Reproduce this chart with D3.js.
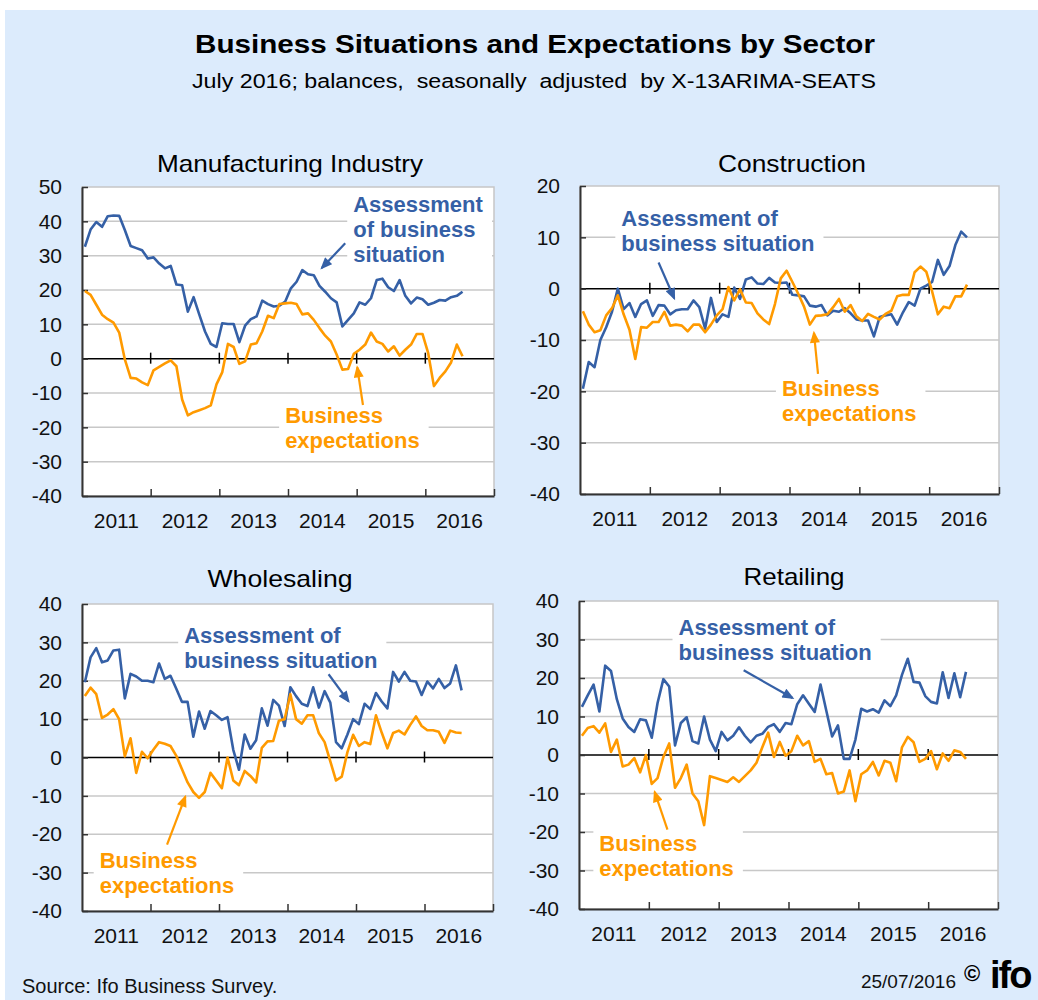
<!DOCTYPE html>
<html>
<head>
<meta charset="utf-8">
<script src="https://cdn.jsdelivr.net/npm/d3@7"></script>
<style>
  body { margin: 0; background: #fff; }
  svg { display: block; font-family: "Liberation Sans", Arial, sans-serif; }
</style>
</head>
<body>
<svg id="chart"></svg>
<script>
// Tick labels of the x axis (one label per year, months 0..71)
const years = ["2011", "2012", "2013", "2014", "2015", "2016"];

// Monthly balances, Jan 2011 - Jul 2016
const manufSituation = [32.6, 37.6, 39.8, 38.4, 41.5, 41.7, 41.6, 37.4, 32.8, 32.2, 31.6, 29.2,
  29.5, 27.7, 26.3, 27.0, 21.6, 21.4, 13.7, 17.9, 12.8, 7.9, 4.3, 3.4,
  10.3, 10.1, 10.1, 4.8, 9.6, 11.5, 12.3, 16.9, 15.9, 15.2, 15.4, 16.6,
  20.5, 22.4, 25.8, 24.6, 24.3, 21.2, 19.5, 17.6, 16.4, 9.4, 11.3, 13.2,
  16.4, 15.7, 17.6, 22.9, 23.3, 20.8, 19.7, 22.9, 18.3, 16.1, 17.8, 17.3,
  15.7, 16.3, 17.1, 16.9, 17.9, 18.3, 19.5];
const manufExpect = [19.7, 18.6, 15.7, 12.8, 11.5, 10.5, 7.6, -0.3, -5.6, -5.8, -6.9, -7.7,
  -3.4, -2.4, -1.4, -0.5, -2.2, -11.9, -16.5, -15.6, -15.0, -14.4, -13.6, -7.5,
  -4.0, 4.3, 3.4, -1.5, -0.8, 4.1, 4.5, 7.9, 12.5, 11.8, 15.9, 16.1,
  16.3, 15.9, 12.9, 13.2, 11.3, 8.9, 6.7, 5.0, 1.2, -3.2, -3.0, 1.4,
  2.6, 4.1, 7.6, 5.0, 4.3, 2.1, 3.6, 0.9, 2.6, 4.1, 7.2, 7.2,
  1.6, -8.0, -5.6, -3.7, -1.1, 4.1, 0.7];

const constrSituation = [-19.5, -14.3, -15.3, -10, -7.5, -4.5, 0, -4, -2.8, -5.5, -3, -2.3,
  -5.3, -3.2, -3.3, -5, -4.2, -4, -4, -2.3, -3.6, -7.8, -1.8, -6.5,
  -5, -5.5, 0.2, -2, 1.8, 2.2, 1, 0.9, 2.1, 1.2, 1.1, 1.2,
  -1.2, -1.3, -1.5, -3.3, -3.5, -3.2, -5.2, -4.3, -4.5, -3.8, -4.8, -6,
  -6.2, -6.2, -9.3, -5.5, -5.2, -5, -7, -4.6, -2.6, -3.3, 0, 0.6,
  1.3, 5.6, 2.7, 4.4, 8.5, 11.1, 10];
const constrExpect = [-4.4, -7, -8.5, -8.1, -5.2, -3.8, -1.3, -5, -8, -13.7, -7.5, -7.6,
  -6.5, -6.5, -4.5, -7.2, -7, -7.2, -8.3, -7, -7, -8.5, -7, -5.2,
  -4, 0.3, -2.3, -0.1, -2.7, -2.8, -4.8, -6, -6.9, -3, 2, 3.5,
  1.3, -1, -3.5, -7, -5.3, -5.2, -5, -3.6, -2, -4.5, -3.2, -5.4,
  -6.3, -4.9, -5.5, -6, -4.9, -4.3, -1.5, -1.2, -1.2, 3.2, 4.3, 3.3,
  -0.5, -5, -3.5, -3.8, -1.5, -1.5, 0.8];

const wholeSituation = [19.6, 26.1, 28.5, 24.8, 25.3, 27.9, 28.1, 15.4, 21.8, 21.1, 20, 20,
  19.6, 24.5, 20.5, 21.3, 18, 14.5, 14.5, 5.4, 12, 7.5, 12.1, 11,
  9.8, 10.5, 2, -3.2, 6, 2.3, 4.5, 12.8, 8.3, 15, 13.5, 8.2,
  18.3, 16, 14, 13.4, 18.3, 13, 17.3, 14.3, 4, 2.4, 6, 10,
  8.7, 14, 12.6, 16.8, 14.6, 12.8, 22.3, 19.8, 22.3, 20, 19.8, 16.3,
  19.8, 18, 20.5, 18.1, 19.3, 24, 17.5];
const wholeExpect = [16, 18.2, 16.5, 10.3, 11.2, 12.6, 10, 0.3, 5, -4, 1.5, -0.2,
  2, 4, 3.6, 3, 0.5, -3, -6.5, -9, -10.5, -9, -4, -6,
  -8, 0, -6, -7.2, -3.5, -4.8, -6.5, 2.5, 4.2, 4.3, 9.6, 10,
  16.5, 10, 8.8, 11, 11, 6.3, 4, -1, -6, -5, 1.4, 5.9,
  3, 4, 3.5, 11, 6.5, 2.4, 6.4, 7, 6, 8.5, 10.7, 8.2,
  7.1, 7.1, 6.7, 3.8, 7, 6.5, 6.4];

const retailSituation = [12.5, 15.5, 18.3, 11.3, 23.2, 21.8, 14.5, 9.5, 7.3, 6, 9.3, 9,
  4.5, 13.5, 19.7, 17.8, 2.5, 8.3, 9.8, 3.6, 3, 10, 4, 1,
  6, 3.8, 5, 7.2, 5, 3.3, 5, 5.5, 7.3, 8, 6, 8.3,
  8, 13.2, 15.5, 13.3, 11.2, 18.3, 11.5, 4.8, 7.7, -1, -1, 4,
  12, 11.3, 11.9, 11, 14.2, 12.7, 15.5, 20.8, 25, 19, 18.8, 15.3,
  13.8, 13.4, 21.5, 14.8, 21.2, 15, 21.6];
const retailExpect = [5, 7, 7.5, 5.8, 8.2, 0.8, 4, -3, -2.5, -0.8, -4.5, 0,
  -7.5, -6, -0.5, 3, -8.5, -6, -2.5, -10, -12, -18.2, -5.5, -6,
  -6.5, -7, -5.8, -7, -5.5, -4, -2, 2, 5.8, -0.5, 3.4, -0.2,
  1, 5, 2.5, 3.6, -1.8, -1, -5, -4.7, -10, -9.5, -4, -12,
  -5, -4, -1.8, -5.3, -1.5, -2, -6.8, 2, 4.7, 3.3, -1.8, -1,
  1, -3.7, 0.4, -1.5, 1.2, 0.8, -1];

// Colours
const blue = "#3560a6";
const orange = "#ff9a00";
const bgBlue = "#dcebfc";

const W = 1038, H = 1000;
const svg = d3.select("#chart").attr("width", W).attr("height", H);

// Arrowhead markers
const defs = svg.append("defs");
[["arrow-blue", blue], ["arrow-orange", orange]].forEach(([id, col]) => {
  defs.append("marker")
    .attr("id", id)
    .attr("viewBox", "0 0 12 10")
    .attr("refX", 10).attr("refY", 5)
    .attr("markerWidth", 13).attr("markerHeight", 10)
    .attr("markerUnits", "userSpaceOnUse")
    .attr("orient", "auto")
    .append("path")
    .attr("d", "M0,0 L12,5 L0,10 z")
    .attr("fill", col);
});

// Background
svg.append("rect").attr("width", W).attr("height", H).attr("fill", "#fff");
svg.append("rect").attr("x", 5).attr("y", 10).attr("width", W - 5).attr("height", H - 10).attr("fill", bgBlue);

// Title + subtitle
svg.append("text")
  .attr("x", 535).attr("y", 53)
  .attr("text-anchor", "middle")
  .attr("textLength", 680).attr("lengthAdjust", "spacingAndGlyphs")
  .style("font-size", "26px").style("font-weight", "bold")
  .text("Business Situations and Expectations by Sector");

svg.append("text")
  .attr("x", 534).attr("y", 88)
  .attr("text-anchor", "middle")
  .attr("textLength", 684).attr("lengthAdjust", "spacingAndGlyphs")
  .style("font-size", "20px").style("white-space", "pre")
  .text("July 2016; balances,  seasonally  adjusted  by X-13ARIMA-SEATS");

// Panel layout; notes are placed in data units (month, value)
const panels = [
  {
    title: "Manufacturing Industry", situation: manufSituation, expect: manufExpect,
    yDomain: [-40, 50], x0: 82, x1: 494, y0: 187, y1: 496, titleX: 290, titleY: 172, titleW: 266,
    sitNote: { m: 47.4, v: 42.7, lines: ["Assessment", "of business", "situation"], from: [46, 33.6], to: [41.9, 26.4] },
    expNote: { m: 35.5, v: -18.8, lines: ["Business", "expectations"], from: [49.1, -13.5], to: [48.1, -2.5] }
  },
  {
    title: "Construction", situation: constrSituation, expect: constrExpect,
    yDomain: [-40, 20], x0: 580, x1: 999, y0: 186, y1: 494, titleX: 792, titleY: 172, titleW: 148,
    sitNote: { m: 7.1, v: 12.3, lines: ["Assessment of", "business situation"], from: [13.5, 5.1], to: [16.2, -1.9] },
    expNote: { m: 34.7, v: -21, lines: ["Business", "expectations"], from: [40.9, -16.6], to: [40.2, -8.6] }
  },
  {
    title: "Wholesaling", situation: wholeSituation, expect: wholeExpect,
    yDomain: [-40, 40], x0: 82, x1: 493, y0: 604, y1: 911, titleX: 280, titleY: 587, titleW: 145,
    sitNote: { m: 17.9, v: 29.8, lines: ["Assessment of", "business situation"], from: [43.2, 21.7], to: [46.7, 14.6] },
    expNote: { m: 3.1, v: -28.7, lines: ["Business", "expectations"], from: [14.9, -22.7], to: [18.1, -10.2] }
  },
  {
    title: "Retailing", situation: retailSituation, expect: retailExpect,
    yDomain: [-40, 40], x0: 579, x1: 998, y0: 601, y1: 909, titleX: 794, titleY: 585, titleW: 101,
    sitNote: { m: 17.1, v: 31.1, lines: ["Assessment of", "business situation"], from: [28.3, 22], to: [36.7, 14.8] },
    expNote: { m: 3.5, v: -24.9, lines: ["Business", "expectations"], from: [15.2, -19.4], to: [13, -9.6] }
  }
];

panels.forEach(p => drawPanel(p));

function drawPanel(p) {
  const x = d3.scaleLinear().domain([0, years.length * 12]).range([p.x0, p.x1]);
  const y = d3.scaleLinear().domain(p.yDomain).range([p.y1, p.y0]);
  const g = svg.append("g");
  const yTicks = d3.range(p.yDomain[0], p.yDomain[1] + 1, 10);
  const yearTicks = d3.range(1, years.length).map(k => k * 12);

  // panel title
  g.append("text")
    .attr("x", p.titleX).attr("y", p.titleY)
    .attr("text-anchor", "middle")
    .attr("textLength", p.titleW).attr("lengthAdjust", "spacingAndGlyphs")
    .style("font-size", "24px")
    .text(p.title);

  // plot area
  g.append("rect")
    .attr("x", p.x0).attr("y", p.y0)
    .attr("width", p.x1 - p.x0).attr("height", p.y1 - p.y0)
    .attr("fill", "#fff")
    .attr("stroke", "#c6c6c6").attr("stroke-width", 1.5);

  // horizontal grid
  g.selectAll(".grid")
    .data(yTicks.filter(t => t !== 0 && t !== p.yDomain[0] && t !== p.yDomain[1]))
    .join("line")
    .attr("x1", p.x0).attr("x2", p.x1)
    .attr("y1", d => y(d)).attr("y2", d => y(d))
    .attr("stroke", "#c8c8c8").attr("stroke-width", 1.5);

  // layer for the white boxes behind the notes (filled after text is measured)
  const boxLayer = g.append("g");

  // zero line with year ticks
  g.append("line")
    .attr("x1", p.x0).attr("x2", p.x1)
    .attr("y1", y(0)).attr("y2", y(0))
    .attr("stroke", "#000").attr("stroke-width", 1.5);
  g.selectAll(".zt")
    .data(yearTicks)
    .join("line")
    .attr("x1", d => x(d)).attr("x2", d => x(d))
    .attr("y1", y(0) - 6).attr("y2", y(0) + 5)
    .attr("stroke", "#000").attr("stroke-width", 1.5);

  // y axis
  g.append("g")
    .attr("transform", `translate(${p.x0},0)`)
    .call(d3.axisLeft(y).tickValues(yTicks).tickFormat(d => String(d))
      .tickSizeInner(-6).tickSizeOuter(0).tickPadding(20))
    .call(a => a.select(".domain").attr("stroke", "#333").attr("stroke-width", 2))
    .call(a => a.selectAll(".tick line").attr("stroke", "#333").attr("stroke-width", 1.5))
    .call(a => a.selectAll(".tick text")
      .attr("fill", "#111")
      .style("font-family", "'Liberation Sans', Arial, sans-serif")
      .style("font-size", "21px"));

  // x axis (ticks between years, labels centred on years)
  g.append("g")
    .attr("transform", `translate(0,${p.y1})`)
    .call(d3.axisBottom(x).tickValues(yearTicks.concat([years.length * 12])).tickSizeInner(-7).tickSizeOuter(0).tickFormat(""))
    .call(a => a.select(".domain").attr("stroke", "#333").attr("stroke-width", 2))
    .call(a => a.selectAll(".tick line").attr("stroke", "#333").attr("stroke-width", 1.5));

  g.selectAll(".yl")
    .data(years)
    .join("text")
    .attr("x", (d, i) => x(i * 12 + 6))
    .attr("y", p.y1 + 32)
    .attr("text-anchor", "middle")
    .attr("fill", "#111")
    .style("font-size", "21px")
    .text(d => d);

  // series
  const line = d3.line()
    .x((d, i) => x(i + 0.5))
    .y(d => y(d));

  g.append("path")
    .datum(p.situation)
    .attr("fill", "none")
    .attr("stroke", blue)
    .attr("stroke-width", 2.6)
    .attr("stroke-linejoin", "round")
    .attr("d", line);

  g.append("path")
    .datum(p.expect)
    .attr("fill", "none")
    .attr("stroke", orange)
    .attr("stroke-width", 2.6)
    .attr("stroke-linejoin", "round")
    .attr("d", line);

  // notes
  drawNote(g, boxLayer, x, y, p, p.sitNote, blue, "arrow-blue");
  drawNote(g, boxLayer, x, y, p, p.expNote, orange, "arrow-orange");
}

function drawNote(g, boxLayer, x, y, p, n, col, marker) {
  const t = g.append("text")
    .attr("x", x(n.m)).attr("y", y(n.v))
    .attr("fill", col)
    .style("font-size", "22px").style("font-weight", "bold");
  n.lines.forEach((l, i) => {
    t.append("tspan").attr("x", x(n.m)).attr("dy", i === 0 ? 0 : 25).text(l);
  });

  // white box sized from the text, kept inside the plot
  const bb = t.node().getBBox();
  const bx0 = Math.max(p.x0 + 2, bb.x - 6);
  const bx1 = Math.min(p.x1 - 2, bb.x + bb.width + 9);
  boxLayer.append("rect")
    .attr("x", bx0).attr("y", bb.y - 2)
    .attr("width", bx1 - bx0).attr("height", bb.height + 4)
    .attr("fill", "#fff");

  g.append("line")
    .attr("x1", x(n.from[0])).attr("y1", y(n.from[1]))
    .attr("x2", x(n.to[0])).attr("y2", y(n.to[1]))
    .attr("stroke", col).attr("stroke-width", 2.2)
    .attr("marker-end", `url(#${marker})`);
}

// Footer
svg.append("text")
  .attr("x", 22).attr("y", 993)
  .attr("fill", "#111")
  .style("font-size", "20px")
  .text("Source: Ifo Business Survey.");

svg.append("text")
  .attr("x", 956).attr("y", 988)
  .attr("text-anchor", "end")
  .attr("fill", "#111")
  .style("font-size", "19px")
  .text("25/07/2016");

svg.append("text")
  .attr("x", 964).attr("y", 981)
  .attr("fill", "#000")
  .style("font-size", "22px").style("font-weight", "bold")
  .text("©");

svg.append("text")
  .attr("x", 990).attr("y", 988)
  .attr("fill", "#000")
  .style("font-size", "38px").style("font-weight", "bold")
  .style("letter-spacing", "-2px")
  .text("ifo");
</script>
</body>
</html>
